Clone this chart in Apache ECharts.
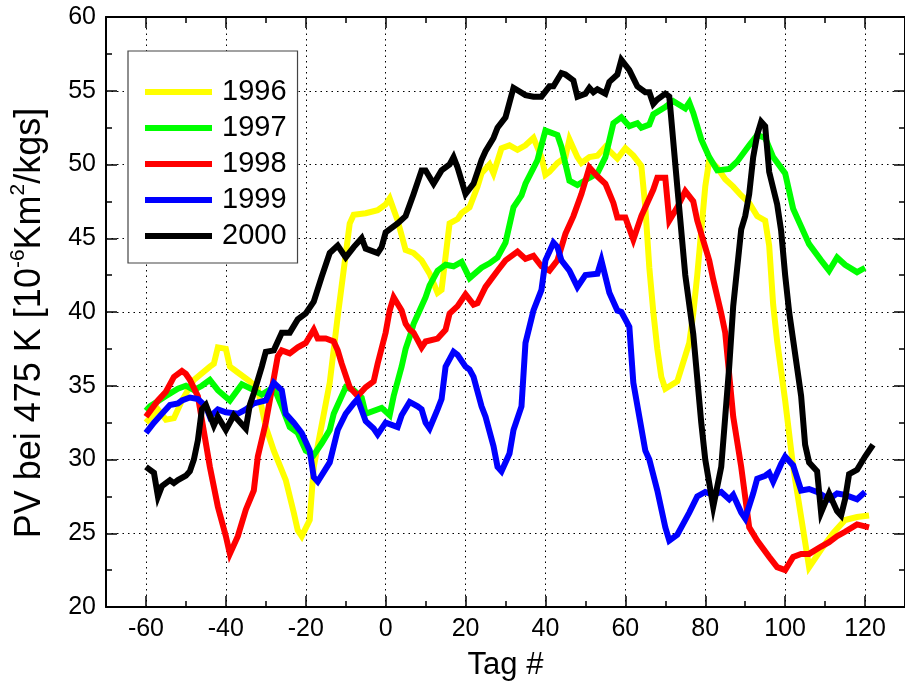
<!DOCTYPE html>
<html>
<head>
<meta charset="utf-8">
<script src="https://cdn.jsdelivr.net/npm/echarts@6/dist/echarts.min.js"></script>
<style>
html,body{margin:0;padding:0;background:#fff;}
#chart{width:905px;height:688px;}
</style>
</head>
<body>
<div id="chart"></div>
<script>
const seriesNames = ['1996', '1997', '1998', '1999', '2000'];
const seriesColors = ['#ffff00', '#00ff00', '#ff0000', '#0000ff', '#000000'];
const xTickLabels = [-60, -40, -20, 0, 20, 40, 60, 80, 100, 120];

const days1996 = [-60,-57,-55,-53,-51,-48,-44,-43,-42,-40,-39,-38,-37,-34,-32,-30,-28,-25,-23,-22,-21,-19,-18,-14,-12,-9,-8,-5,-2,0,1,3,5,7,9,11,13,14,16,18,19,21,23,24,26,27,29,31,33,35,37,39,40,41,43,45,46,48,49,51,53,55,58,60,62,64,65,66,67,68,69,70,73,76,77,78,80,81,83,85,87,89,91,93,95,96,97,98,100,102,106,109,112,115,118,121];
const pv1996 = [32.5,33.4,32.7,32.8,34.0,35.4,36.3,36.5,37.6,37.5,36.3,36.1,35.9,35.3,34.8,32.2,30.6,28.6,26.4,25.2,24.8,25.9,29.5,35.2,39.7,46.0,46.6,46.7,46.9,47.3,47.7,46.2,44.2,44.0,43.5,42.6,41.3,41.5,46.0,46.3,46.7,47.1,48.5,49.4,50.0,49.4,51.1,51.3,51.0,51.3,51.8,50.5,49.3,49.5,50.1,50.5,51.7,50.5,50.1,50.5,50.6,51.2,50.4,51.1,50.6,49.9,47.1,43.0,40.0,37.5,35.6,34.8,35.3,37.9,39.9,42.5,48.5,50.3,49.8,49.0,48.5,47.9,47.4,46.5,46.2,44.5,40.5,38.0,34.0,29.5,22.7,23.9,25.0,25.9,26.1,26.2];

const days1997 = [-60,-59,-55,-52,-50,-48,-46,-44,-42,-39,-36,-33,-31,-28,-26,-24,-22,-20,-18,-16,-14,-13,-10,-8,-6,-5,-1,1,2,4,5,6,7,8,10,11,13,15,17,19,21,24,26,28,30,32,34,35,38,40,43,44,46,48,51,53,55,57,59,61,63,64,66,67,70,72,75,76,77,79,81,83,86,88,91,93,95,97,100,102,104,106,109,111,113,115,118,120];
const pv1997 = [33.3,33.6,34.3,34.8,35.0,34.7,35.0,35.4,34.7,34.0,35.1,34.7,34.4,34.9,33.6,32.2,31.8,30.6,30.3,31.1,32.0,33.1,34.9,34.7,34.2,33.1,33.5,33.0,34.3,36.3,37.5,38.3,39.2,39.8,41.0,41.8,42.8,43.2,43.1,43.4,42.3,43.0,43.3,43.7,44.7,47.1,47.9,48.7,50.3,52.3,52.0,51.2,48.9,48.6,49.1,49.4,50.5,52.8,53.2,52.6,52.8,52.5,52.7,53.4,53.9,54.3,53.8,54.2,53.5,51.7,50.5,49.6,49.7,50.2,51.3,52.0,51.8,50.5,49.4,47.0,45.8,44.6,43.5,42.8,43.7,43.2,42.7,43.0];

const days1998 = [-60,-57,-55,-53,-51,-50,-49,-47,-46,-44,-42,-40,-39,-37,-35,-33,-32,-30,-28,-27,-26,-24,-22,-20,-18,-17,-15,-13,-12,-11,-9,-7,-5,-3,-2,0,1,2,4,5,6,7,9,10,13,15,16,18,20,22,23,25,28,30,33,35,37,39,41,43,45,47,49,51,53,55,57,58,60,62,64,67,68,70,71,73,75,77,78,80,81,82,84,85,87,89,91,93,96,98,100,102,104,106,109,111,113,115,118,121];
const pv1998 = [32.9,34.0,34.6,35.6,36.0,35.8,35.4,34.3,32.7,29.5,26.8,24.8,23.6,24.8,26.6,27.9,30.2,32.5,35.5,37.0,37.4,37.2,37.6,37.9,38.8,38.2,38.2,38.0,37.4,36.5,34.9,34.3,34.9,35.3,36.5,38.6,40.1,41.0,40.1,39.2,38.8,38.6,37.6,38.0,38.2,38.8,39.9,40.4,41.2,40.5,40.6,41.7,42.8,43.5,44.1,43.6,43.8,43.1,42.8,43.5,45.3,46.5,48.0,49.8,49.2,48.7,47.4,46.4,46.4,44.9,46.5,48.3,49.1,49.1,46.2,47.1,48.2,47.5,46.2,44.4,43.5,42.2,39.9,38.6,32.9,29.5,25.4,24.5,23.4,22.7,22.5,23.4,23.6,23.6,24.1,24.4,24.8,25.1,25.6,25.4];

const days1999 = [-60,-58,-56,-54,-52,-51,-49,-47,-45,-44,-42,-40,-37,-35,-33,-30,-28,-26,-25,-23,-21,-19,-18,-17,-14,-12,-10,-8,-7,-5,-3,-2,0,3,4,6,8,9,10,11,13,14,15,17,18,20,21,22,24,25,27,28,29,31,32,34,35,37,39,40,42,43,44,46,48,50,53,54,56,58,59,61,62,65,66,68,70,71,73,76,78,80,82,84,86,87,89,90,92,93,95,96,97,99,100,102,104,106,108,111,113,115,118,120];
const pv1999 = [31.8,32.5,33.1,33.7,33.8,34.0,34.2,34.1,33.6,32.9,33.4,33.2,33.1,33.4,33.8,34.0,35.2,34.7,33.1,32.5,31.8,30.6,28.8,28.5,29.8,32.0,33.1,33.8,34.1,32.6,32.1,31.7,32.5,32.2,33.0,33.9,33.6,33.4,32.5,32.1,33.4,34.1,36.3,37.3,37.1,36.3,36.1,35.6,33.6,32.9,30.9,29.5,29.2,30.4,32.0,33.6,37.9,40.1,41.5,43.5,44.7,44.4,43.5,42.8,41.7,42.5,42.6,43.5,41.3,40.1,40.0,39.0,35.2,30.6,30.0,27.9,25.4,24.5,24.9,26.4,27.5,27.8,27.6,27.8,27.3,27.6,26.4,26.0,27.7,28.7,28.9,29.1,28.5,29.7,30.2,29.6,27.9,28.0,27.8,27.3,27.7,27.6,27.3,27.8];

const days2000 = [-60,-58,-57,-56,-54,-53,-52,-50,-49,-48,-47,-46,-45,-43,-42,-40,-38,-37,-35,-34,-33,-31,-30,-28,-26,-24,-22,-20,-18,-16,-14,-12,-10,-8,-6,-5,-2,-1,0,3,5,7,9,10,12,14,16,17,18,20,22,24,25,27,28,30,31,32,35,37,39,41,42,44,45,47,48,50,51,52,53,55,56,58,59,61,63,65,66,67,68,70,71,73,75,77,79,80,82,84,85,86,87,89,90,91,92,93,94,95,96,97,98,99,100,101,102,104,105,106,108,109,111,113,114,115,116,118,120,122];
const pv2000 = [29.5,29.1,27.5,28.2,28.6,28.4,28.6,28.9,29.2,30.0,31.3,33.4,33.7,32.3,32.9,32.0,33.0,32.7,32.1,33.7,34.5,36.3,37.3,37.4,38.6,38.6,39.5,39.9,40.7,42.4,44.0,44.5,43.7,44.4,45.0,44.3,44.0,44.4,45.4,46.0,46.5,48.0,49.6,49.6,48.7,49.6,50.0,50.5,49.8,48.0,48.7,50.3,50.9,51.8,52.5,53.2,54.2,55.2,54.7,54.6,54.6,55.3,55.3,56.2,56.1,55.7,54.6,54.8,55.2,54.9,55.1,54.8,55.6,56.1,57.1,56.4,55.3,54.9,54.9,54.1,54.4,54.8,54.6,48.5,42.5,38.5,32.5,30.0,26.8,29.5,32.9,36.3,40.4,45.6,46.5,48.0,50.5,52.0,52.9,52.6,49.5,48.4,47.3,45.5,42.5,40.0,38.1,34.3,31.0,29.8,29.2,26.4,27.7,26.5,26.2,27.3,29.0,29.3,30.2,31.0];

const allDays = [days1996, days1997, days1998, days1999, days2000];
const allPV = [pv1996, pv1997, pv1998, pv1999, pv2000];

const FONT = 'Liberation Sans, Arial, sans-serif';
const chart = echarts.init(document.getElementById('chart'), null, {renderer: 'canvas'});

function xAxisCfg(pos, major, labels) {
  return {
    type: 'value', position: pos, min: -70, max: 130, interval: 10,
    axisLine: {show: major, onZero: false, lineStyle: {color: '#000', width: 2}},
    axisTick: major ? {show: true, inside: true, length: 11, lineStyle: {color: '#000', width: 1.5}, customValues: xTickLabels}
                    : {show: true, inside: true, length: 6, lineStyle: {color: '#000', width: 1.5}},
    axisLabel: labels ? {show: true, customValues: xTickLabels, margin: 10, color: '#000', fontSize: 25, fontFamily: FONT}
                      : {show: false},
    splitLine: (major && labels) ? {show: true, lineStyle: {color: '#000', type: [1.5, 4], width: 1}} : {show: false}
  };
}

const series = seriesNames.map((n, i) => ({
  name: n, type: 'line', xAxisIndex: 0, yAxisIndex: 0,
  data: allDays[i].map((d, k) => [d, allPV[i][k]]),
  showSymbol: false, symbol: 'none',
  lineStyle: {color: seriesColors[i], width: 6, join: 'miter'},
  itemStyle: {color: seriesColors[i]},
  emphasis: {disabled: true}, animation: false
}));

const x0 = xAxisCfg('bottom', true, true);
x0.name = 'Tag #';
x0.nameLocation = 'middle';
x0.nameGap = 43;
x0.nameTextStyle = {fontSize: 31, fontFamily: FONT, color: '#000'};

chart.setOption({
  backgroundColor: '#fff',
  animation: false,
  grid: {left: 106, top: 17, width: 806, height: 590, containLabel: false},
  legend: {
    data: seriesNames, orient: 'vertical', left: 128, top: 51,
    icon: 'rect', itemWidth: 67, itemHeight: 6, itemGap: 6,
    padding: [26, 11, 12, 17],
    borderColor: '#444', borderWidth: 1.2, backgroundColor: '#fff',
    textStyle: {fontSize: 29, fontFamily: FONT, color: '#000', lineHeight: 30, padding: [0, 0, 0, 5]},
    selectedMode: false
  },
  xAxis: [x0, xAxisCfg('bottom', false, false), xAxisCfg('top', true, false), xAxisCfg('top', false, false)],
  yAxis: [{
    type: 'value', position: 'left', min: 20, max: 60, interval: 5,
    axisLine: {show: true, onZero: false, lineStyle: {color: '#000', width: 2}},
    axisTick: {show: true, inside: true, length: 11, lineStyle: {color: '#000', width: 1.5}},
    minorTick: {show: true, splitNumber: 2, length: 6, lineStyle: {color: '#000', width: 1.5}},
    axisLabel: {margin: 10, color: '#000', fontSize: 25, fontFamily: FONT},
    splitLine: {show: true, lineStyle: {color: '#000', type: [1.5, 4], width: 1}},
    name: '{a|PV bei 475 K [10}{s|-6}{a|Km}{s|2}{a|/kgs]}',
    nameLocation: 'middle', nameGap: 58, nameRotate: 90,
    nameTextStyle: {color: '#000', fontFamily: FONT, padding: [0, 22, 0, 0], rich: {
      a: {fontSize: 36, fontFamily: FONT, color: '#000', lineHeight: 40, verticalAlign: 'bottom'},
      s: {fontSize: 21, fontFamily: FONT, color: '#000', lineHeight: 40, verticalAlign: 'top'}
    }}
  }, {
    type: 'value', position: 'right', min: 20, max: 60, interval: 5,
    axisLine: {show: true, onZero: false, lineStyle: {color: '#000', width: 2}},
    axisTick: {show: true, inside: true, length: 11, lineStyle: {color: '#000', width: 1.5}},
    minorTick: {show: true, splitNumber: 2, length: 6, lineStyle: {color: '#000', width: 1.5}},
    axisLabel: {show: false}, splitLine: {show: false}
  }],
  series: series
});
</script>
</body>
</html>
